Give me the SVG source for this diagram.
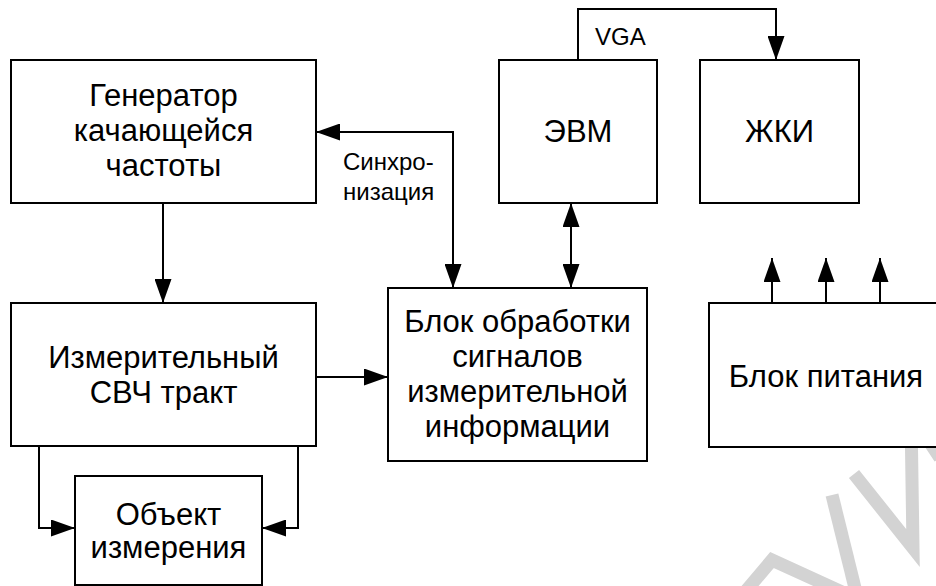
<svg xmlns="http://www.w3.org/2000/svg" width="936" height="586" viewBox="0 0 936 586">
<style>
.box{fill:#fff;stroke:#000;stroke-width:2}
.t{font-family:"Liberation Sans",Arial,sans-serif;font-size:31px;fill:#000;text-anchor:middle}
.s{font-family:"Liberation Sans",Arial,sans-serif;font-size:24px;fill:#000}
.c{fill:none;stroke:#000;stroke-width:2}
.wm{fill:none;stroke:#d3d3d3;stroke-width:13;stroke-linejoin:miter;stroke-miterlimit:10}
</style>
<defs>
<marker id="ah" markerUnits="userSpaceOnUse" markerWidth="24" markerHeight="17" refX="24" refY="8.5" orient="auto-start-reverse" viewBox="0 0 24 17">
<path d="M0,0 L24,8.5 L0,17 z" fill="#000"/>
</marker>
</defs>
<rect width="936" height="586" fill="#fff"/>
<g id="watermark">
<polyline class="wm" points="745,592 772,560 842,592"/>
<line class="wm" x1="832" y1="495" x2="856" y2="592"/>
<polyline class="wm" points="854,474 913,548 911,414 940,458"/>
</g>
<g id="gen">
<rect class="box" x="11" y="60" width="305" height="143"/>
<text class="t" x="163.5" y="106">Генератор</text>
<text class="t" x="163.5" y="141">качающейся</text>
<text class="t" x="163.5" y="176">частоты</text>
</g>
<g id="izm">
<rect class="box" x="11" y="303" width="305" height="143"/>
<text class="t" x="163.5" y="368">Измерительный</text>
<text class="t" x="163.5" y="403">СВЧ тракт</text>
</g>
<g id="obj">
<rect class="box" x="75" y="476" width="187" height="109"/>
<text class="t" x="168.5" y="525">Объект</text>
<text class="t" x="168.5" y="558">измерения</text>
</g>
<g id="block">
<rect class="box" x="388" y="288" width="259" height="173"/>
<text class="t" x="517.5" y="332">Блок обработки</text>
<text class="t" x="517.5" y="367">сигналов</text>
<text class="t" x="517.5" y="402">измерительной</text>
<text class="t" x="517.5" y="437">информации</text>
</g>
<g id="evm">
<rect class="box" x="499" y="60" width="158" height="143"/>
<text class="t" x="578" y="142">ЭВМ</text>
</g>
<g id="zki">
<rect class="box" x="700" y="60" width="159" height="143"/>
<text class="t" x="779.5" y="142">ЖКИ</text>
</g>
<g id="power">
<rect class="box" x="709" y="303" width="240" height="144"/>
<text class="t" x="826" y="387">Блок питания</text>
</g>
<g id="connectors">
<path class="c" d="M163,203 V303" marker-end="url(#ah)"/>
<path class="c" d="M453,288 V132 H316" marker-start="url(#ah)" marker-end="url(#ah)"/>
<path class="c" d="M571,203 V288" marker-start="url(#ah)" marker-end="url(#ah)"/>
<path class="c" d="M578,60 V9 H776 V60" marker-end="url(#ah)"/>
<path class="c" d="M316,377 H388" marker-end="url(#ah)"/>
<path class="c" d="M39,446 V528 H75" marker-end="url(#ah)"/>
<path class="c" d="M298,446 V528 H262" marker-end="url(#ah)"/>
<path class="c" d="M772,303 V258" marker-end="url(#ah)"/>
<path class="c" d="M826,303 V258" marker-end="url(#ah)"/>
<path class="c" d="M880,303 V258" marker-end="url(#ah)"/>
<text class="s" x="343" y="170">Синхро-</text>
<text class="s" x="343" y="200">низация</text>
<text class="s" x="595" y="45">VGA</text>
</g>
</svg>
